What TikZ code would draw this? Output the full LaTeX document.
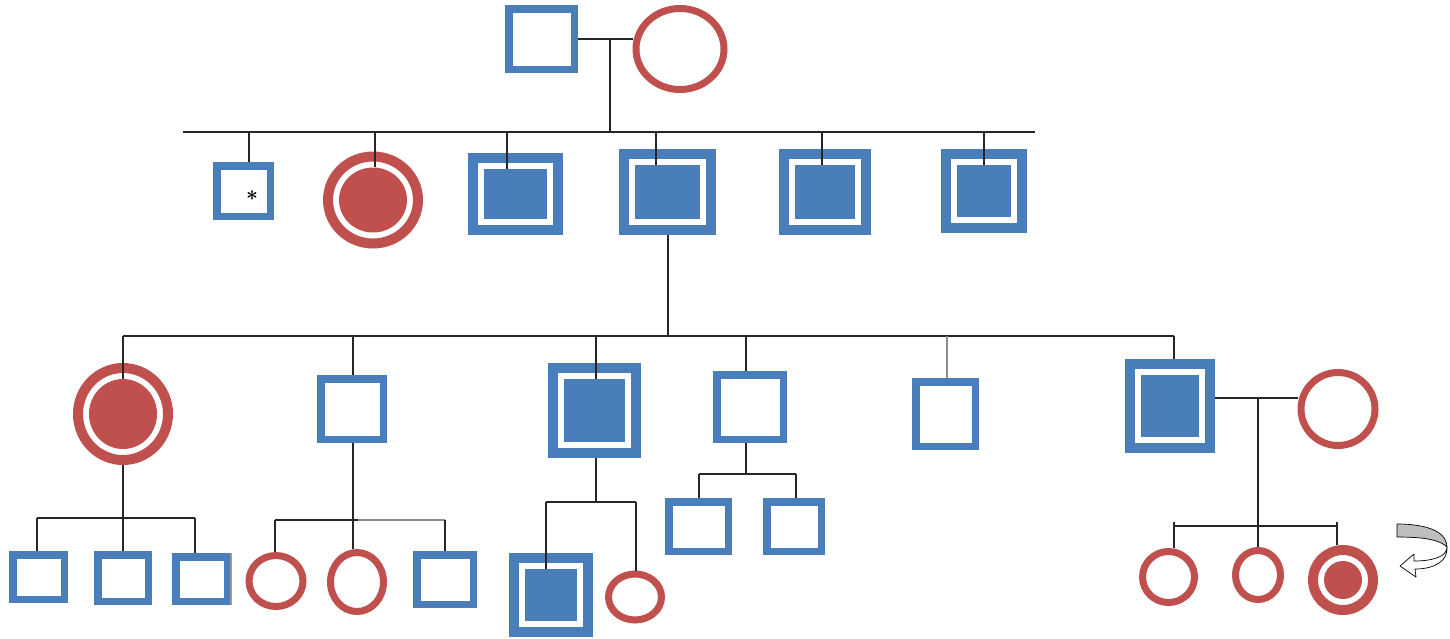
\documentclass[tikz,border=0pt]{standalone}
\usetikzlibrary{shapes.geometric}
\definecolor{pblue}{RGB}{74,126,187}
\definecolor{pred}{RGB}{192,80,77}
\definecolor{pgray}{RGB}{190,190,190}
\tikzset{
  ln/.style={draw=black!85, line width=1.6pt},
  gln/.style={draw=black!45, line width=1.6pt},
  sqo/.style={rectangle, draw=pblue, fill=white, line width=7.5pt, inner sep=0pt},
  dsqo/.style={rectangle, draw=pblue, fill=white, line width=10pt, inner sep=0pt},
  dsqi/.style={rectangle, fill=pblue, inner sep=0pt},
  cio/.style={ellipse, draw=pred, fill=white, line width=7pt, inner sep=0pt},
  dcio/.style={ellipse, draw=pred, fill=white, line width=10pt, inner sep=0pt},
  dcii/.style={ellipse, fill=pred, inner sep=0pt},
}
% name, position, outer width, outer height
\newcommand\PSq[4]{\node[sqo, minimum width=#3pt-7.5pt, minimum height=#4pt-7.5pt] (#1) at (#2) {};}
\newcommand\PDSq[4]{\node[dsqo, minimum width=#3pt-10pt, minimum height=#4pt-10pt] (#1) at (#2) {};
  \node[dsqi, minimum width=#3pt-32pt, minimum height=#4pt-32pt] (#1i) at (#2) {};}
\newcommand\PCi[4]{\node[cio, minimum width=#3pt-7pt, minimum height=#4pt-7pt] (#1) at (#2) {};}
\newcommand\PDCi[4]{\node[dcio, minimum width=#3pt-10pt, minimum height=#4pt-10pt] (#1) at (#2) {};
  \node[dcii, minimum width=#3pt-32pt, minimum height=#4pt-32pt] (#1i) at (#2) {};}
\begin{document}
\begin{tikzpicture}[x=1pt,y=-1pt]
\useasboundingbox (0,0) rectangle (1450,638);
% ---------- generation I
\PSq{F}{541.5,39}{73}{68}
\PCi{M}{680,49}{95}{88}
% ---------- generation II
\PSq{A1}{243.5,191}{61}{58}
\PDCi{A2}{373,200}{100}{97}
\PDSq{A3}{515.5,194}{95}{82}
\PDSq{A4}{667,192}{97}{86}
\PDSq{A5}{825,192}{92}{86}
\PDSq{A6}{984,191}{86}{84}
\node[inner sep=0pt, font=\huge\boldmath] (ast) at (252,196) {$\ast$};
% ---------- generation III
\PDCi{B1}{123,414}{100}{102}
\PSq{B2}{352,409}{70}{68}
\PDSq{B3}{594.5,410.5}{93}{95}
\PSq{B4}{750,407}{74}{72}
\PSq{B5}{945.5,414}{67}{72}
\PDSq{B6}{1170,406}{90}{94}
\PCi{W}{1338,409}{81}{80}
% ---------- generation IV
\PSq{C1}{38.5,577}{59}{52}
\PSq{C2}{123,578}{58}{54}
\PSq{C3}{201.5,579}{59}{52}
\PCi{D1}{276,581}{61}{58}
\PCi{D2}{357,582}{60}{66}
\PSq{D3}{445,579.5}{64}{57}
\PDSq{E1}{551,595}{84}{84}
\PCi{E2}{635,597}{60}{53}
\PSq{G1}{698.5,526.5}{67}{57}
\PSq{G2}{794,526.5}{62}{57}
\PCi{H1}{1168.5,577}{59}{58}
\PCi{H2}{1258,575}{52}{56}
\PDCi{H3}{1343,580}{70}{70}
\draw[draw=black!40, line width=2pt] (C3.north east) -- (C3.south east);
% ---------- lines generation I -> II
\coordinate (k1) at (610,39);
\draw[ln] (F.east) -- (M.west |- F.east);
\coordinate (s1L) at (183,132);
\coordinate (s1R) at (1035,132);
\draw[ln] (s1L) -- (s1R);
\draw[ln] (k1) -- (k1 |- s1L);
\coordinate (dA1) at (249,132);
\coordinate (dA2) at (375,132);
\coordinate (dA3) at (507,132);
\coordinate (dA4) at (656,132);
\coordinate (dA5) at (822,132);
\coordinate (dA6) at (984,132);
\draw[ln] (dA1) -- (dA1 |- A1.north);
\draw[ln] (dA2) -- (dA2 |- A2i.north);
\draw[ln] (dA3) -- (dA3 |- A3i.north);
\draw[ln] (dA4) -- (dA4 |- A4i.north);
\draw[ln] (dA5) -- (dA5 |- A5i.north);
\draw[ln] (dA6) -- (dA6 |- A6i.north);
% ---------- lines generation II -> III
\coordinate (s2L) at (123,336);
\coordinate (s2R) at (1174,336);
\coordinate (k4) at (668,336);
\draw[ln] (k4 |- A4.south) -- (k4);
\draw[ln] (s2L) -- (s2R);
\coordinate (dB2) at (353,336);
\coordinate (dB3) at (596,336);
\coordinate (dB4) at (746,336);
\coordinate (dB5) at (947,336);
\draw[ln] (s2L) -- (s2L |- B1i.north);
\draw[ln] (dB2) -- (dB2 |- B2.north);
\draw[ln] (dB3) -- (dB3 |- B3i.north);
\draw[ln] (dB4) -- (dB4 |- B4.north);
\draw[gln] (dB5) -- (dB5 |- B5.north);
\draw[ln] (s2R) -- (s2R |- B6.north);
\coordinate (k2) at (1258,398);
\draw[ln] (B6.east |- k2) -- (W.west |- k2);
% ---------- lines generation III -> IV
% family of B1
\coordinate (s3L) at (37,518);
\coordinate (s3R) at (195,518);
\draw[ln] (B1.south) -- (B1.south |- s3L);
\draw[ln] (s3L) -- (s3R);
\draw[ln] (s3L) -- (s3L |- C1.north);
\draw[ln] (s3L -| C2.north) -- (C2.north);
\draw[ln] (s3R) -- (s3R |- C3.north);
% family of B2
\coordinate (s4L) at (275,520);
\coordinate (s4M) at (358,520);
\coordinate (s4R) at (445,520);
\coordinate (dD2) at (353,520);
\draw[ln] (dD2 |- B2.south) -- (dD2);
\draw[ln] (s4L) -- (s4M);
\draw[gln] (s4M) -- (s4R);
\draw[ln] (s4L) -- (s4L |- D1.north);
\draw[ln] (dD2) -- (dD2 |- D2.north);
\draw[ln] (s4R) -- (s4R |- D3.north);
% family of B3
\coordinate (s5L) at (546,502);
\coordinate (s5R) at (636,502);
\coordinate (k5) at (596,502);
\draw[ln] (k5 |- B3.south) -- (k5);
\draw[ln] (s5L) -- (s5R);
\draw[ln] (s5L) -- (s5L |- E1i.north);
\draw[ln] (s5R) -- (s5R |- E2.north);
% family of B4
\coordinate (s6L) at (699,474);
\coordinate (s6R) at (796,474);
\coordinate (k6) at (746,474);
\draw[ln] (k6 |- B4.south) -- (k6);
\draw[ln] (s6L) -- (s6R);
\draw[ln] (s6L) -- (s6L |- G1.north);
\draw[ln] (s6R) -- (s6R |- G2.north);
% family of B6
\coordinate (s7L) at (1174,526);
\coordinate (s7R) at (1337,526);
\coordinate (t7L) at (1174,522);
\coordinate (t7R) at (1337,522);
\draw[ln] (k2) -- (k2 |- H2.north);
\draw[ln] (s7L) -- (s7R);
\draw[ln] (t7L) -- (t7L |- H1.north);
\draw[ln] (t7R) -- (t7R |- H3.north);
% ---------- curved arrow
\draw[line width=0.7pt, fill=white, line join=round]
  (1447,547) .. controls (1447,557) and (1432,561) .. (1414,561)
  -- (1414,554) -- (1400,566) -- (1416,577) -- (1415,569)
  .. controls (1436,569) and (1448,560) .. (1447,547) -- cycle;
\draw[line width=0.7pt, fill=pgray, line join=round]
  (1397,524) .. controls (1430,524) and (1447,533) .. (1447,547)
  .. controls (1440,540) and (1425,537) .. (1397,537) -- cycle;
\end{tikzpicture}
\end{document}
